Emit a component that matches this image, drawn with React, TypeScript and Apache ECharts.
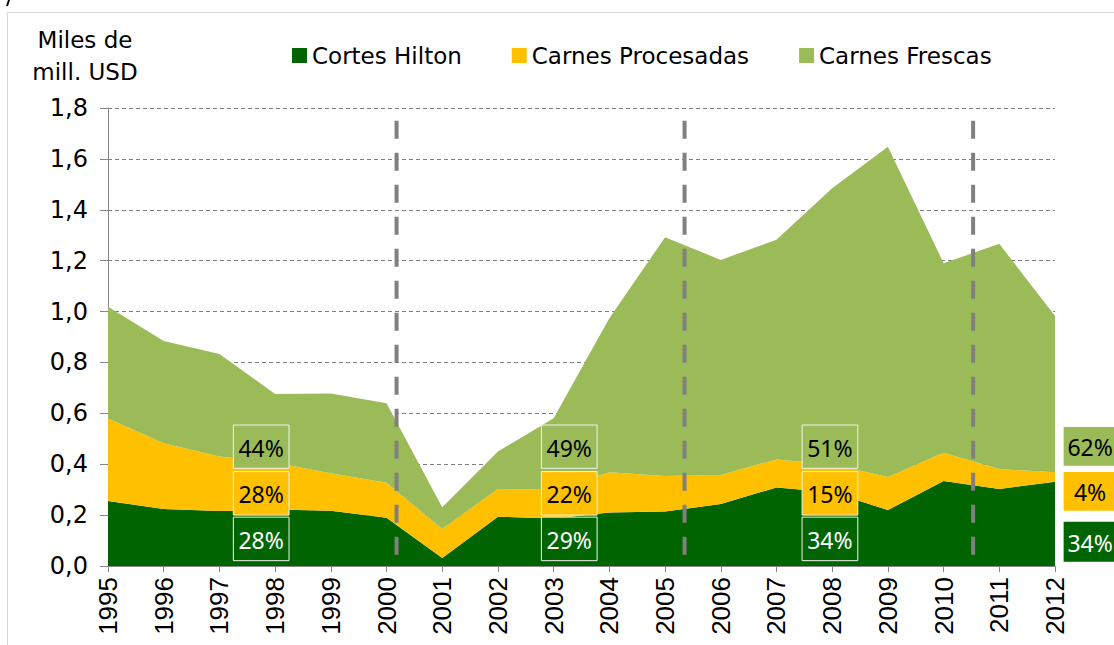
import React, { useEffect, useRef } from "react";
import * as echarts from "echarts";

// ---- data ----
const years = ["1995","1996","1997","1998","1999","2000","2001","2002","2003","2004","2005","2006","2007","2008","2009","2010","2011","2012"];
const cortesHilton = [0.255,0.224,0.216,0.222,0.217,0.19,0.031,0.194,0.187,0.21,0.214,0.244,0.309,0.29,0.22,0.334,0.303,0.331];
const carnesProcesadas = [0.325,0.258,0.214,0.184,0.148,0.137,0.114,0.109,0.112,0.158,0.14,0.114,0.11,0.11,0.13,0.111,0.078,0.037];
const carnesFrescas = [0.439,0.402,0.403,0.27,0.313,0.313,0.086,0.147,0.282,0.606,0.938,0.845,0.863,1.085,1.298,0.745,0.885,0.615];

// period dividers (position on the year axis, as year index)
const dividerPos = [5.18, 10.35, 15.53];
const dividerTop = 1.75;

// share labels per period (%), column centre as year index
const shareX = [2.75, 8.28, 12.96, 17.63];
const shareHilton = [28, 29, 34, 34];
const shareProcesadas = [28, 22, 15, 4];
const shareFrescas = [44, 49, 51, 62];

const seriesNames = ["Cortes Hilton", "Carnes Procesadas", "Carnes Frescas"];
const colors = ["#006400", "#FFC000", "#9BBB59"];
const textColors = ["#FFFFFF", "#000000", "#000000"];

type Box = { cx: number; w: number; y0: number; y1: number; text: string; fill: string; color: string; border: boolean };

function buildBoxes(): Box[] {
  const out: Box[] = [];
  const shares = [shareHilton, shareProcesadas, shareFrescas];
  const rowsPeriod = [[0.021, 0.192], [0.2, 0.371], [0.384, 0.554]];
  const rowsRight = [[0.017, 0.174], [0.217, 0.369], [0.394, 0.546]];
  shareX.forEach((cx, i) => {
    const last = i === shareX.length - 1;
    for (let r = 0; r < 3; r++) {
      const rows = last ? rowsRight : rowsPeriod;
      out.push({
        cx,
        w: last ? 0.95 : 1.0,
        y0: rows[r][0],
        y1: rows[r][1],
        text: shares[r][i] + "%",
        fill: colors[r],
        color: textColors[r],
        border: !last,
      });
    }
  });
  return out;
}

export default function App() {
  const ref = useRef<HTMLDivElement>(null);
  useEffect(() => {
    if (!ref.current) return;
    const chart = echarts.init(ref.current, null, { renderer: "svg" });
    const boxes = buildBoxes();
    const labelFont = "DejaVu Sans";
    const areaSeries = [cortesHilton, carnesProcesadas, carnesFrescas].map((d, i) => ({
      name: seriesNames[i],
      type: "line",
      stack: "total",
      data: d,
      symbol: "none",
      lineStyle: { width: 0, opacity: 0 },
      areaStyle: { color: colors[i], opacity: 1 },
      itemStyle: { color: colors[i] },
      z: 2,
      silent: true,
    }));
    const dividerSeries = dividerPos.map((p) => ({
      type: "line",
      xAxisIndex: 1,
      data: [[p, dividerTop], [p, 0]],
      symbol: "none",
      lineStyle: { color: "#808080", width: 4, type: [18, 14] },
      z: 3,
      silent: true,
    }));
    const boxSeries = {
      type: "custom",
      xAxisIndex: 1,
      clip: false,
      z: 4,
      silent: true,
      data: boxes.map((b) => [b.cx, b.y0]),
      encode: { x: 0, y: 1 },
      renderItem: (params: any, api: any) => {
        const b = boxes[params.dataIndex];
        const p0 = api.coord([b.cx - b.w / 2, b.y1]);
        const p1 = api.coord([b.cx + b.w / 2, b.y0]);
        return {
          type: "group",
          children: [
            {
              type: "rect",
              shape: { x: p0[0], y: p0[1], width: p1[0] - p0[0], height: p1[1] - p0[1] },
              style: { fill: b.fill, stroke: b.border ? "#F2F2F2" : null, lineWidth: 1 },
            },
            {
              type: "text",
              style: {
                text: b.text,
                x: (p0[0] + p1[0]) / 2,
                y: (p0[1] + p1[1]) / 2 + 1,
                align: "center",
                verticalAlign: "middle",
                fill: b.color,
                fontSize: 23,
                fontFamily: '"Liberation Sans Narrow", "Noto Sans", sans-serif',
              },
            },
          ],
        };
      },
    };
    chart.setOption({
      animation: false,
      backgroundColor: "#FFFFFF",
      grid: { left: 108, right: 59, top: 108, bottom: 79, containLabel: false },
      legend: {
        data: seriesNames,
        left: 287,
        top: 39,
        icon: "rect",
        itemWidth: 15,
        itemHeight: 15,
        itemGap: 50,
        textStyle: { fontFamily: labelFont, fontSize: 23, color: "#000" },
        selectedMode: false,
      },
      xAxis: [
        {
          type: "category",
          data: years,
          boundaryGap: false,
          axisLine: { lineStyle: { color: "#868686", width: 1 } },
          axisTick: { show: true, length: 6, lineStyle: { color: "#868686" } },
          axisLabel: { rotate: 90, interval: 0, margin: 11, fontFamily: "Liberation Sans", fontSize: 26, color: "#000" },
          splitLine: { show: false },
        },
        { type: "value", min: 0, max: 17, show: false },
      ],
      yAxis: {
        type: "value",
        min: 0,
        max: 1.8,
        interval: 0.2,
        axisLine: { show: true, lineStyle: { color: "#868686", width: 1 } },
        axisTick: { show: true, length: 8, lineStyle: { color: "#868686" } },
        axisLabel: {
          margin: 20,
          fontFamily: labelFont,
          fontSize: 24,
          color: "#000",
          formatter: (v: number) => v.toFixed(1).replace(".", ","),
        },
        splitLine: { show: true, lineStyle: { color: "#7F7F7F", type: [4, 3], width: 1 } },
      },
      graphic: [
        {
          type: "rect",
          shape: { x: 7.5, y: 12.5, width: 1200, height: 700 },
          style: { fill: null, stroke: "#D9D9D9", lineWidth: 1 },
          silent: true,
          z: -1,
        },
        {
          type: "line",
          shape: { x1: 9, y1: 0, x2: 7, y2: 6 },
          style: { stroke: "#000", lineWidth: 2 },
          silent: true,
        },
        {
          type: "text",
          style: {
            text: "Miles de\nmill. USD",
            x: 85,
            y: 56,
            align: "center",
            verticalAlign: "middle",
            fontFamily: labelFont,
            fontSize: 23,
            lineHeight: 32,
            fill: "#000",
          },
        },
      ],
      series: [...areaSeries, ...dividerSeries, boxSeries],
    });
    return () => chart.dispose();
  }, []);
  return (
    <div
      ref={ref}
      style={{ position: "fixed", left: 0, top: 0, width: 1114, height: 645, background: "#fff" }}
    />
  );
}
